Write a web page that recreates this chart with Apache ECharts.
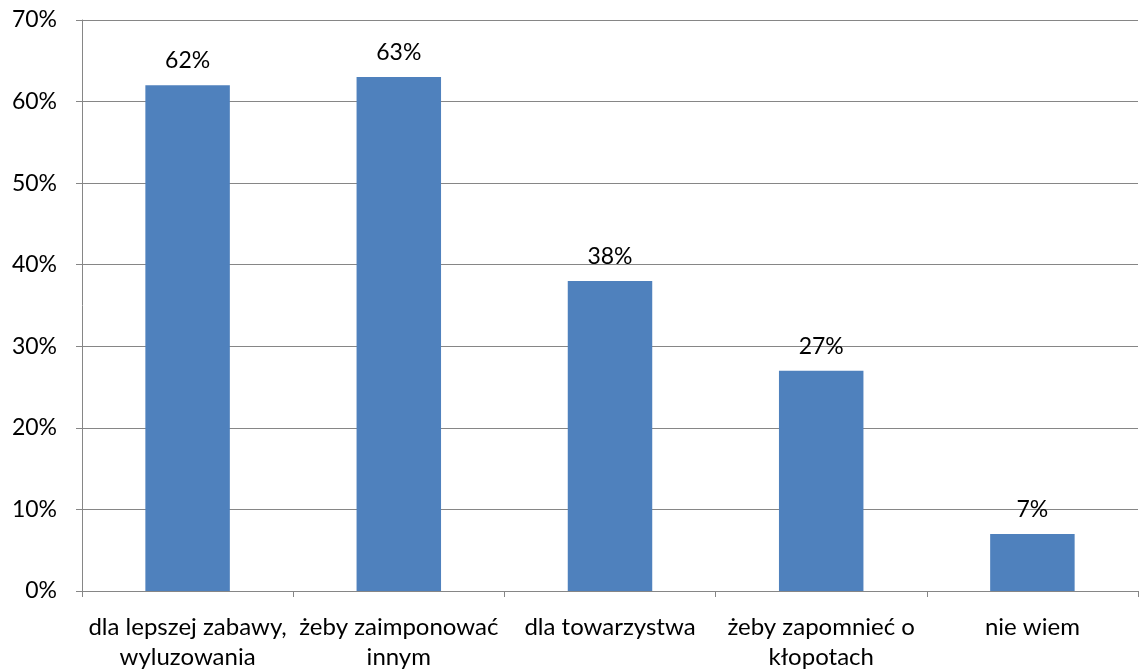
<!DOCTYPE html>
<html><head><meta charset="utf-8">
<script src="https://cdn.jsdelivr.net/npm/echarts@6/dist/echarts.min.js"></script>
<style>html,body{margin:0;padding:0;background:#fff}#c{width:1139px;height:672px}</style>
</head><body><div id="c"></div>
<script>
const categories = ["dla lepszej zabawy,\nwyluzowania", "żeby zaimponować\ninnym", "dla towarzystwa", "żeby zapomnieć o\nkłopotach", "nie wiem"];
const values = [62, 63, 38, 27, 7];
const yTicks = [0, 10, 20, 30, 40, 50, 60, 70];

const chart = echarts.init(document.getElementById('c'));
const font = 'Lato, "Noto Sans", sans-serif';
chart.setOption({
  animation: false,
  grid: {left: 82, right: 1, top: 20, bottom: 79, containLabel: false},
  xAxis: {
    type: 'category', data: categories,
    axisLine: {lineStyle: {color: '#868686', width: 1}},
    axisTick: {show: true, alignWithLabel: false, length: 6, lineStyle: {color: '#868686'}},
    axisLabel: {color: '#000', fontFamily: font, fontSize: 24, lineHeight: 30, margin: 21, interval: 0}
  },
  yAxis: {
    type: 'value', min: 0, max: 70, interval: 10,
    axisLine: {show: true, lineStyle: {color: '#868686'}},
    axisTick: {show: true, length: 6, lineStyle: {color: '#868686'}},
    splitLine: {lineStyle: {color: '#868686', width: 1}},
    axisLabel: {color: '#000', fontFamily: font, fontSize: 23, margin: 25,
      formatter: v => yTicks.includes(v) ? v + '%' : ''}
  },
  series: [{
    type: 'bar', data: values, barWidth: '40%',
    itemStyle: {color: '#4F81BD'},
    label: {show: true, position: 'top', distance: 13, color: '#000', fontFamily: font, fontSize: 23,
      formatter: p => p.value + '%'}
  }]
});
</script></body></html>
